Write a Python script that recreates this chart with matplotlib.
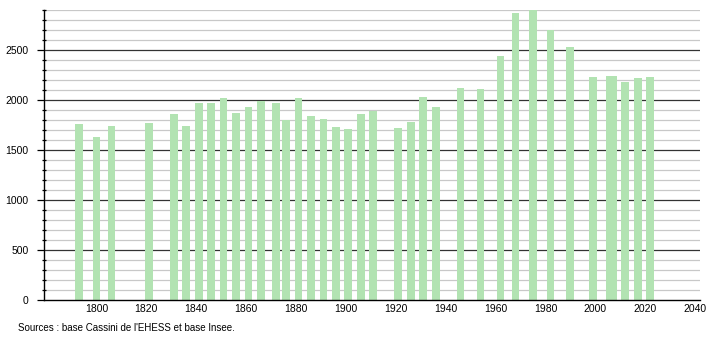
import matplotlib
matplotlib.use('Agg')
import matplotlib.pyplot as plt
import numpy as np

# census years and population
years = [1793, 1800, 1806, 1821, 1831, 1836, 1841, 1846, 1851, 1856,
         1861, 1866, 1872, 1876, 1881, 1886, 1891, 1896, 1901, 1906,
         1911, 1921, 1926, 1931, 1936, 1946, 1954, 1962, 1968, 1975,
         1982, 1990, 1999, 2006, 2007, 2012, 2017, 2022]
pop = [1760, 1633, 1740, 1770, 1860, 1740, 1970, 1970, 2020, 1870,
       1930, 1993, 1970, 1800, 2020, 1840, 1810, 1730, 1710, 1860,
       1895, 1720, 1780, 2030, 1930, 2120, 2110, 2440, 2870, 2895,
       2700, 2530, 2230, 2240, 2240, 2180, 2220, 2230]
xticks = list(range(1800, 2041, 20))
source = "Sources : base Cassini de l'EHESS et base Insee."

plt.rcParams['font.family'] = ['Liberation Sans', 'DejaVu Sans']

fig = plt.figure(figsize=(7.1, 3.4), dpi=100)
ax = fig.add_axes([0.062, 0.1176, 0.924, 0.853])

for y in range(100, 3000, 100):
    if y % 500 == 0:
        ax.axhline(y, color='#333333', lw=0.9, zorder=1)
    else:
        ax.axhline(y, color='#c8c8c8', lw=0.9, zorder=1)

ax.bar(years, pop, width=3.1, color='#b2e3b2', zorder=2)

ax.set_xlim(1779, 2042)
ax.set_ylim(0, 2900)
ax.set_xticks(xticks)
ax.set_yticks(range(0, 2600, 500))
ax.set_yticks(range(0, 2901, 100), minor=True)
ax.tick_params(axis='x', length=0, labelsize=7.5, pad=3)
ax.tick_params(axis='y', which='major', length=5, width=0.9, labelsize=7.5, pad=6)
ax.tick_params(axis='y', which='minor', length=3, width=0.9, direction='inout')

for s in ['top', 'right']:
    ax.spines[s].set_visible(False)
for s in ['left', 'bottom']:
    ax.spines[s].set_color('black')
    ax.spines[s].set_linewidth(1.0)

fig.text(0.025, 0.02, source, fontsize=7, ha='left', va='bottom')

fig.savefig('out.png', dpi=100)
